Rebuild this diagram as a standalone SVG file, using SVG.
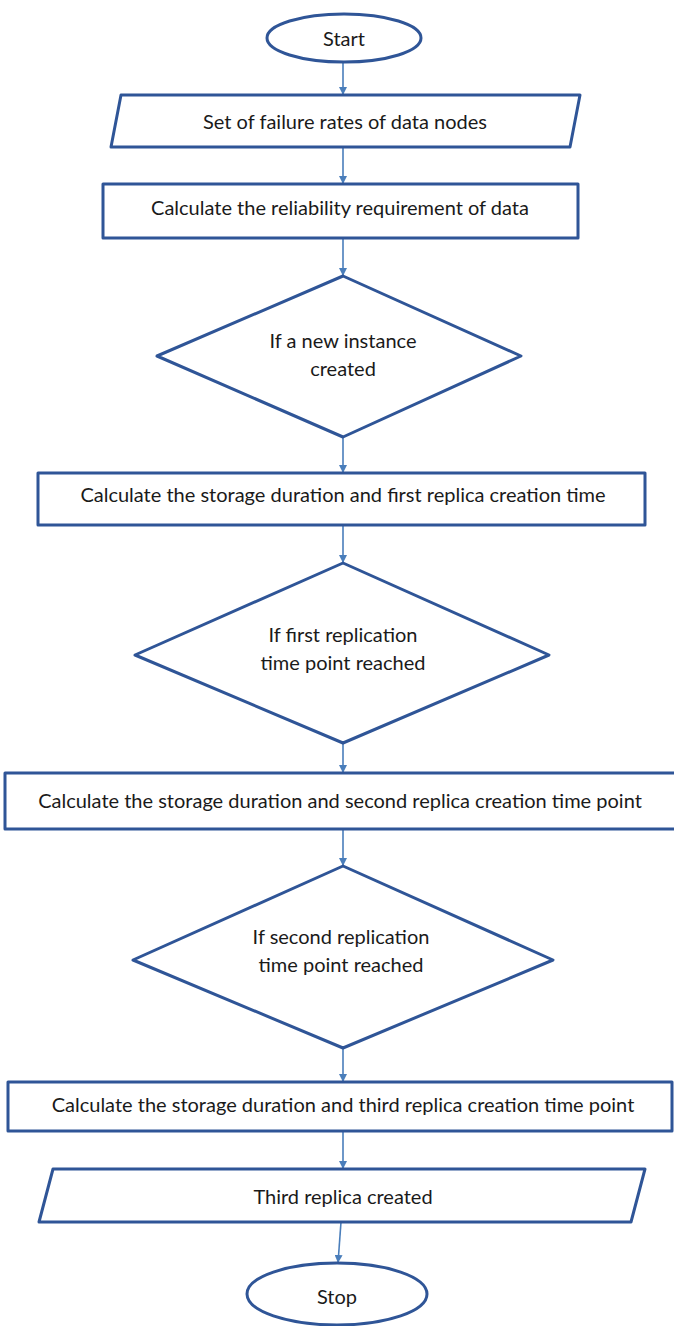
<svg xmlns="http://www.w3.org/2000/svg" width="674" height="1326" viewBox="0 0 674 1326">
  <defs>
    <marker id="arrow" viewBox="0 0 10 10" refX="10" refY="5" markerWidth="8" markerHeight="8" orient="auto" markerUnits="userSpaceOnUse">
      <path d="M0,0 L10,5 L0,10 Z" fill="#4a7ebb"/>
    </marker>
    <style>
      .shape { fill: #ffffff; stroke: #2f5597; stroke-width: 3; stroke-linejoin: round; }
      .conn { stroke: #4a7ebb; stroke-width: 1.6; fill: none; marker-end: url(#arrow); }
      .label { font-family: Lato, "Liberation Sans", Arial, sans-serif; font-size: 20px; fill: #1a1a1a; text-anchor: middle; dominant-baseline: central; }
    </style>
  </defs>
  <rect width="674" height="1326" fill="#ffffff"/>

  <g id="connectors">
    <line class="conn" x1="343" y1="62" x2="343" y2="95"/>
    <line class="conn" x1="343" y1="147" x2="343" y2="184"/>
    <line class="conn" x1="343" y1="238" x2="343" y2="276"/>
    <line class="conn" x1="343" y1="437" x2="343" y2="473"/>
    <line class="conn" x1="343" y1="525" x2="343" y2="563"/>
    <line class="conn" x1="343" y1="743" x2="343" y2="773"/>
    <line class="conn" x1="343" y1="829" x2="343" y2="866"/>
    <line class="conn" x1="343" y1="1048" x2="343" y2="1082"/>
    <line class="conn" x1="343" y1="1131" x2="343" y2="1169"/>
    <line class="conn" x1="341" y1="1222" x2="338" y2="1263"/>
  </g>

  <g id="start">
    <ellipse class="shape" cx="344" cy="38" rx="77" ry="24"/>
    <text class="label" x="344" y="38">Start</text>
  </g>

  <g id="failure-rates">
    <polygon class="shape" points="121,95 580,95 570,147 111,147"/>
    <text class="label" x="345" y="121">Set of failure rates of data nodes</text>
  </g>

  <g id="reliability">
    <rect class="shape" x="103" y="184" width="475" height="54"/>
    <text class="label" x="340" y="207">Calculate the reliability requirement of data</text>
  </g>

  <g id="new-instance">
    <polygon class="shape" points="343,276 521,356 343,437 157,356"/>
    <text class="label" x="343" y="340">If a new instance</text>
    <text class="label" x="343" y="368">created</text>
  </g>

  <g id="first-replica-time">
    <rect class="shape" x="38" y="473" width="607" height="52"/>
    <text class="label" x="343" y="494">Calculate the storage duration and first replica creation time</text>
  </g>

  <g id="first-reached">
    <polygon class="shape" points="343,563 549,655 343,743 135,655"/>
    <text class="label" x="343" y="634">If first replication</text>
    <text class="label" x="343" y="662">time point reached</text>
  </g>

  <g id="second-replica-time">
    <rect class="shape" x="5" y="773" width="673" height="56"/>
    <text class="label" x="340" y="800">Calculate the storage duration and second replica creation time point</text>
  </g>

  <g id="second-reached">
    <polygon class="shape" points="343,866 553,960 343,1048 133,960"/>
    <text class="label" x="341" y="936">If second replication</text>
    <text class="label" x="341" y="964">time point reached</text>
  </g>

  <g id="third-replica-time">
    <rect class="shape" x="8" y="1082" width="664" height="49"/>
    <text class="label" x="343" y="1104">Calculate the storage duration and third replica creation time point</text>
  </g>

  <g id="third-created">
    <polygon class="shape" points="53,1169 645,1169 631,1222 39,1222"/>
    <text class="label" x="343" y="1196">Third replica created</text>
  </g>

  <g id="stop">
    <ellipse class="shape" cx="337" cy="1294" rx="90" ry="31"/>
    <text class="label" x="337" y="1296">Stop</text>
  </g>
</svg>
